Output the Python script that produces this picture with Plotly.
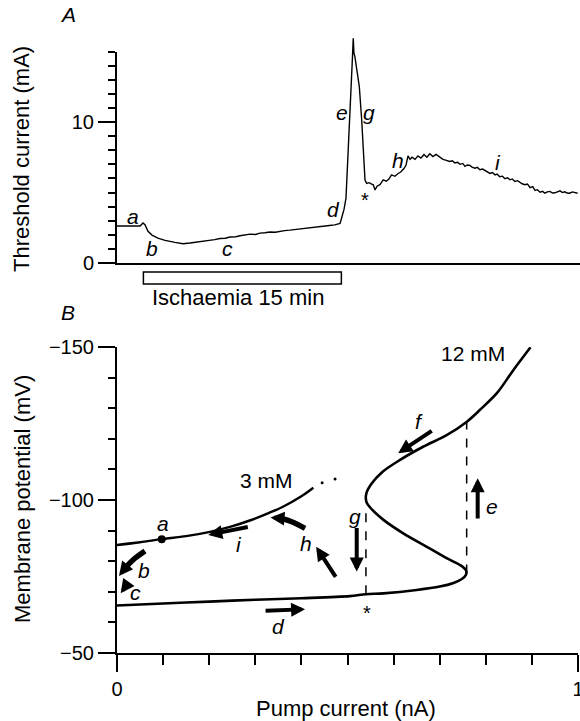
import plotly.graph_objects as go

# ---------------- Panel A data: threshold current vs time ----------------
time_min = [0, 1.0, 1.75, 1.97, 2.12, 2.35, 2.65, 3.1, 3.64, 4.39, 5.0, 5.53, 6.29, 7.05, 7.4,
            7.8, 8.2, 8.56, 9.0, 9.32, 9.7, 10.08, 10.5, 10.83, 11.2, 11.59, 12.0, 12.35, 12.7,
            13.1, 13.5, 13.86, 14.2, 14.6, 15.0, 15.4, 15.8, 16.1, 16.5, 16.9, 17.05, 17.2,
            17.35, 17.52, 17.7, 17.83, 17.9, 17.95, 18.03, 18.2, 18.36, 18.54, 18.66, 18.79,
            18.92, 19.1, 19.3, 19.42, 19.55, 19.7, 19.92, 20.17, 20.4, 20.6, 20.8, 21.06, 21.3,
            21.5, 21.74, 21.9, 22.05, 22.2, 22.35, 22.58, 22.8, 23.03, 23.26, 23.48, 23.7,
            23.94, 24.17, 24.47, 24.7, 24.9, 25.2, 25.4, 25.6, 25.8, 26.0, 26.2, 26.36, 26.55,
            26.74, 26.9, 27.12, 27.3, 27.5, 27.7, 27.88, 28.05, 28.26, 28.45, 28.64, 28.8, 29.0,
            29.2, 29.4, 29.6, 29.77, 29.95, 30.15, 30.35, 30.53, 30.7, 30.9, 31.1, 31.3, 31.5,
            31.67, 31.85, 32.05, 32.25, 32.42, 32.6, 32.8, 33.0, 33.18, 33.35, 33.56, 33.75,
            33.94, 34.1, 34.3, 34.5, 34.7, 34.9]
threshold_mA = [2.62, 2.63, 2.62, 2.84, 2.72, 2.25, 1.98, 1.76, 1.6, 1.46, 1.37, 1.42, 1.5, 1.62,
                1.66, 1.74, 1.76, 1.84, 1.86, 1.93, 1.99, 2.05, 2.02, 2.12, 2.15, 2.2, 2.18, 2.25,
                2.3, 2.33, 2.38, 2.42, 2.44, 2.5, 2.52, 2.58, 2.62, 2.66, 2.7, 2.8, 3.3, 3.8, 4.6,
                7.78, 11.33, 14.4, 15.94, 14.9, 14.6, 13.4, 12.5, 10.14, 7.78, 5.89, 5.65, 5.7,
                5.6, 5.55, 5.18, 5.45, 5.55, 5.89, 5.8, 5.95, 6.25, 6.15, 6.35, 6.45, 6.7, 6.95,
                7.6, 7.35, 7.5, 7.35, 7.6, 7.45, 7.7, 7.5, 7.75, 7.55, 7.7, 7.5, 7.35, 7.3, 7.2,
                7.25, 7.1, 7.14, 7.0, 7.06, 6.85, 6.95, 6.92, 6.8, 6.72, 6.78, 6.62, 6.66, 6.55,
                6.48, 6.35, 6.42, 6.25, 6.3, 6.12, 6.16, 5.98, 6.04, 5.9, 5.96, 5.78, 5.84, 5.72,
                5.62, 5.55, 5.6, 5.35, 5.42, 5.15, 5.2, 5.02, 5.08, 4.95, 5.05, 5.08, 4.96, 4.98,
                5.06, 5.12, 5.0, 5.05, 4.96, 4.95, 5.04, 5.0, 4.95]
ischaemia_min = [2, 17]
yA_ticks = [0, 10]

# ---------------- Panel B data: membrane potential vs pump current ----------------
pump_3mM = [0, 0.05, 0.097, 0.15, 0.2017, 0.245, 0.288, 0.33, 0.36, 0.40, 0.426]
vm_3mM = [-85.3, -86.2, -87.2, -88.2, -89.6, -91.2, -93.3, -95.8, -97.8, -101.2, -104.0]
pump_3mM_dots = [0.445, 0.473]
vm_3mM_dots = [-105.6, -106.9]
pump_12mM = [0, 0.1, 0.2, 0.3, 0.4, 0.505, 0.540, 0.578, 0.650, 0.700, 0.730, 0.748, 0.757,
             0.757, 0.748, 0.715, 0.672, 0.621, 0.578, 0.553, 0.541, 0.541, 0.552, 0.575,
             0.614, 0.664, 0.715, 0.759, 0.787, 0.824, 0.860, 0.897]
vm_12mM = [-65.5, -66.2, -66.8, -67.4, -67.9, -68.6, -69.2, -69.5, -70.6, -71.7, -72.9, -74.2,
           -75.6, -77.0, -78.4, -81.0, -84.7, -89.1, -93.5, -96.9, -99.4, -102.2, -105.3,
           -109.1, -113.1, -117.4, -121.2, -125.6, -129.4, -134.9, -142.5, -149.9]
point_a_pump = [0.097]
point_a_vm = [-87.2]
jump_pump = [0.540, 0.7585]
jump_low_vm = [-69.2, -76.0]
jump_high_vm = [-98.5, -125.6]
yB_ticks = [-150, -100, -50]
yB_ticktext = ["\u2212150", "\u2212100", "\u221250"]
xB_ticks = [0, 1]

# straight arrows: (label, tip_x, tip_y, tail_x, tail_y)
arrows_B = [
    ("d", 0.408, -64.3, 0.319, -63.8),
    ("e", 0.7824, -107.1, 0.7824, -93.5),
    ("f", 0.610, -115.3, 0.686, -122.9),
    ("g", 0.52, -76.6, 0.52, -91.3),
    ("h", 0.432, -84.7, 0.4765, -74.4),
    ("i", 0.198, -88.6, 0.287, -91.3),
    ("c", 0.008, -69.5, 0.019, -71.8),
]
# curved arrows: shaft points + tip
curved_B = [
    ([0.0607, 0.0347, 0.0195], [-83.3, -80.4, -78.1], (0.0043, -75.2)),
    ([0.408, 0.379, 0.357], [-90.75, -92.9, -94.0], (0.333, -94.3)),
]

# ---------------- layout helpers ----------------
W, H = 580, 721
def X(px): return px / W
def Y(py): return 1 - py / H
FONT = "Liberation Sans, Arial, sans-serif"
BLK = "black"

fig = go.Figure()

# Panel A trace (drawn on an invisible taller axis so the spike can exceed 15 mA)
fig.add_trace(go.Scatter(x=time_min, y=threshold_mA, xaxis="x3", yaxis="y3", mode="lines",
                         line=dict(color=BLK, width=1.4), hoverinfo="skip", showlegend=False))

# Panel B curves
fig.add_trace(go.Scatter(x=pump_3mM, y=vm_3mM, xaxis="x2", yaxis="y2", mode="lines",
                         line=dict(color=BLK, width=2.4, shape="spline", smoothing=0.9),
                         showlegend=False))
fig.add_trace(go.Scatter(x=pump_3mM_dots, y=vm_3mM_dots, xaxis="x2", yaxis="y2", mode="markers",
                         marker=dict(color=BLK, size=3), showlegend=False))
fig.add_trace(go.Scatter(x=pump_12mM, y=vm_12mM, xaxis="x2", yaxis="y2", mode="lines",
                         line=dict(color=BLK, width=2.6, shape="spline", smoothing=0.9),
                         showlegend=False))
fig.add_trace(go.Scatter(x=point_a_pump, y=point_a_vm, xaxis="x2", yaxis="y2", mode="markers",
                         marker=dict(color=BLK, size=8), showlegend=False))
for px_, lo, hi in zip(jump_pump, jump_low_vm, jump_high_vm):
    fig.add_trace(go.Scatter(x=[px_, px_], y=[lo, hi], xaxis="x2", yaxis="y2", mode="lines",
                             line=dict(color=BLK, width=1.5, dash="dash"), showlegend=False))
for sx, sy, tip in curved_B:
    fig.add_trace(go.Scatter(x=sx, y=sy, xaxis="x2", yaxis="y2", mode="lines",
                             line=dict(color=BLK, width=5.5, shape="spline"), showlegend=False))

annotations = []
def txt(text, x, y, xref, yref, size=21, italic=False, angle=0):
    if italic:
        text = "<i>" + text + "</i>"
    annotations.append(dict(text=text, x=x, y=y, xref=xref, yref=yref, showarrow=False,
                            xanchor="center", yanchor="middle", textangle=angle,
                            font=dict(family=FONT, size=size, color=BLK)))

# arrows in panel B
for lab, tx, ty, ax, ay in arrows_B:
    annotations.append(dict(x=tx, y=ty, ax=ax, ay=ay, xref="x2", yref="y2", axref="x2", ayref="y2",
                            text="", showarrow=True, arrowhead=2, arrowsize=0.7, arrowwidth=4,
                            arrowcolor=BLK, standoff=0, startstandoff=0))
for sx, sy, tip in curved_B:
    annotations.append(dict(x=tip[0], y=tip[1], ax=sx[-1], ay=sy[-1], xref="x2", yref="y2",
                            axref="x2", ayref="y2", text="", showarrow=True, arrowhead=2,
                            arrowsize=0.7, arrowwidth=4, arrowcolor=BLK, standoff=0))

# Panel A letters
labA = {"a": (1.21, 3.33), "b": (2.65, 1.06), "c": (8.4, 1.06), "d": (16.4, 3.76),
        "e": (17.05, 10.7), "f": (18.86, 15.9), "g": (19.1, 10.7), "h": (21.3, 7.3),
        "i": (28.9, 7.1)}
for k, (x, y) in labA.items():
    txt(k, x, y, "x", "y", italic=True)
txt("*", 18.8, 4.45, "x", "y", size=20)

# Panel B letters
labB = {"a": (0.0998, -92.2), "b": (0.0575, -77.1), "c": (0.041, -69.7), "d": (0.35, -58.6),
        "e": (0.813, -97.8), "f": (0.656, -125.6), "g": (0.516, -94.5), "h": (0.411, -85.8),
        "i": (0.265, -85.3)}
for k, (x, y) in labB.items():
    txt(k, x, y, "x2", "y2", italic=True)
txt("*", 0.542, -63.0, "x2", "y2", size=20)
txt("3 mM", 0.3245, -106.3, "x2", "y2", size=21)
txt("12 mM", 0.773, -147.9, "x2", "y2", size=21)

# panel tags, titles
txt("A", X(68), Y(15), "paper", "paper", size=21, italic=True)
txt("B", X(68), Y(312), "paper", "paper", size=21, italic=True)
txt("Threshold current (mA)", X(21), Y(159), "paper", "paper", size=22, angle=-90)
txt("Membrane potential (mV)", X(22), Y(499), "paper", "paper", size=22, angle=-90)
txt("Pump current (nA)", X(346), Y(708), "paper", "paper", size=22)
annotations.append(dict(text="Ischaemia 15 min", x=sum(ischaemia_min) / 2 - 0.3, y=Y(297),
                        xref="x", yref="paper", showarrow=False, xanchor="center",
                        yanchor="middle", font=dict(family=FONT, size=22, color=BLK)))

shapes = [dict(type="rect", xref="x", yref="paper", x0=ischaemia_min[0], x1=ischaemia_min[1],
               y0=Y(284), y1=Y(272), line=dict(color=BLK, width=1.5), fillcolor="white")]

tickfont = dict(family=FONT, size=20, color=BLK)
common = dict(showgrid=False, zeroline=False, linecolor=BLK, linewidth=2, tickcolor=BLK,
              tickwidth=2, tickfont=tickfont, fixedrange=True, automargin=False,
              ticklabeloverflow="allow")

fig.update_layout(
    width=W, height=H, margin=dict(l=0, r=0, t=0, b=0, pad=0, autoexpand=False),
    paper_bgcolor="white", plot_bgcolor="white", showlegend=False,
    xaxis=dict(domain=[X(117), 1.0], range=[0, 35.08], anchor="y", showline=True, ticks="",
               showticklabels=False, **common),
    yaxis=dict(domain=[Y(263), Y(51.5)], range=[0, 15], anchor="x", showline=True,
               ticks="outside", tickvals=yA_ticks, ticktext=[str(v) for v in yA_ticks],
               ticklen=17,
               minor=dict(ticks="outside", dtick=1, tick0=0, ticklen=7, tickwidth=1.5,
                          tickcolor=BLK, showgrid=False), **common),
    xaxis3=dict(domain=[X(117), 1.0], range=[0, 35.08], anchor="y3", visible=False,
                fixedrange=True, automargin=False),
    yaxis3=dict(domain=[Y(263), Y(263 - 16.5 * 14.1)], range=[0, 16.5], anchor="x3",
                visible=False, fixedrange=True, automargin=False),
    xaxis2=dict(domain=[X(117), X(578)], range=[0, 1], anchor="y2", showline=True,
                ticks="outside", tickvals=xB_ticks, ticktext=[str(v) for v in xB_ticks],
                ticklen=17,
                minor=dict(ticks="outside", dtick=0.1, tick0=0, ticklen=10, tickwidth=1.5,
                           tickcolor=BLK, showgrid=False), **common),
    yaxis2=dict(domain=[Y(653), Y(347)], range=[-50, -150], anchor="x2", showline=True,
                ticks="outside", tickvals=yB_ticks, ticktext=yB_ticktext, ticklen=17,
                minor=dict(ticks="outside", dtick=10, tick0=0, ticklen=7, tickwidth=1.5,
                           tickcolor=BLK, showgrid=False), **common),
    annotations=annotations, shapes=shapes,
)

fig.write_html("out.html", config={"displayModeBar": False})
